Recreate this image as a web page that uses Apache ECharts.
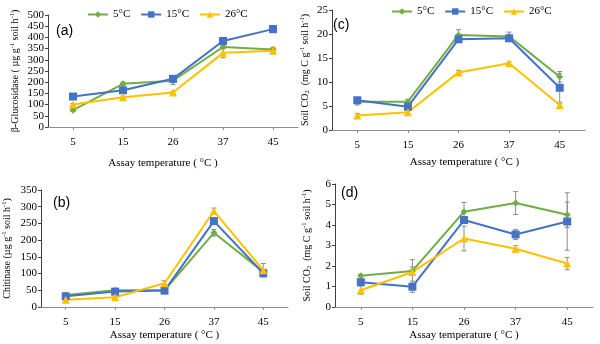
<!DOCTYPE html>
<html>
<head>
<meta charset="utf-8">
<script src="https://cdn.jsdelivr.net/npm/echarts@6/dist/echarts.min.js"></script>
<style>
  html, body { margin: 0; padding: 0; background: #fff; }
  #chart { width: 600px; height: 344px; }
</style>
</head>
<body>
<div id="chart"></div>
<script>
// Assay temperatures (°C) on every x axis
const categories = ['5', '15', '26', '37', '45'];
const seriesNames = ['5°C', '15°C', '26°C'];

// (a) β-Glucosidase, µg g-1 soil h-1
const glu5 = [75, 193, 207, 357, 346];
const glu15 = [136, 164, 215, 384, 437];
const glu26 = [100, 133, 154, 331, 340];
const gluErr5 = [6, 8, 18, 8, 10];
const gluErr15 = [6, 6, 8, 6, 16];
const gluErr26 = [5, 5, 5, 22, 10];

// (b) Chitinase, µg g-1 soil h-1
const chi5 = [36, 50, 50, 222, 105];
const chi15 = [32, 46, 49, 257, 101];
const chi26 = [22, 29, 71, 287, 110];
const chiErr5 = [5, 3, 3, 10, 8];
const chiErr15 = [4, 4, 3, 6, 10];
const chiErr26 = [3, 3, 8, 9, 20];

// (c) Soil CO2, mg C g-1 soil h-1
const co2c5 = [5.9, 5.9, 19.8, 19.5, 11.1];
const co2c15 = [6.2, 4.85, 18.9, 19.1, 8.8];
const co2c26 = [3.0, 3.7, 12.0, 13.9, 5.2];
const co2cErr5 = [0.7, 0.5, 1.1, 0.9, 1.1];
const co2cErr15 = [0.4, 0.4, 0.4, 0.4, 3.0];
const co2cErr26 = [0.4, 0.4, 0.4, 0.3, 0.4];

// (d) Soil CO2, mg C g-1 soil h-1
const co2d5 = [1.53, 1.76, 4.65, 5.07, 4.5];
const co2d15 = [1.21, 0.99, 4.24, 3.54, 4.17];
const co2d26 = [0.82, 1.71, 3.34, 2.84, 2.12];
const co2dErr5 = [0.05, 0.2, 0.45, 0.56, 0.62];
const co2dErr15 = [0.15, 0.27, 0.16, 0.25, 1.4];
const co2dErr26 = [0.2, 0.6, 0.6, 0.15, 0.3];

const colors = ['#70AD47', '#4472C4', '#FFC000'];
const symbols = ['diamond', 'rect', 'triangle'];
const symbolSizes = [7, 8, 8];
const serif = '"Liberation Serif", "Times New Roman", serif';

const panels = [
  { grid: { left: 48, top: 15, width: 250, height: 112 }, max: 500, interval: 50,
    data: [glu5, glu15, glu26], err: [gluErr5, gluErr15, gluErr26],
    yName: '{t|β-Glucosidase ( µg g}{s|-1}{t| soil h}{s|-1}{t|)}', yGap: 27, xGap: 31, xPad: [0, 20, 0, 0] },
  { grid: { left: 41, top: 190, width: 247, height: 117 }, max: 350, interval: 50,
    data: [chi5, chi15, chi26], err: [chiErr5, chiErr15, chiErr26],
    yName: '{t|Chitinase (µg g}{s|-1}{t| soil h}{s|-1}{t|)}', yGap: 28, xGap: 23, xPad: [0, 0, 0, 0] },
  { grid: { left: 332, top: 10, width: 253, height: 120 }, max: 25, interval: 5,
    data: [co2c5, co2c15, co2c26], err: [co2cErr5, co2cErr15, co2cErr26],
    yName: '{t|Soil CO}{b|2}{t|  (mg C g}{s|-1}{t| soil h}{s|-1}{t|)}', yGap: 21, xGap: 27, xPad: [0, 0, 0, 12] },
  { grid: { left: 335, top: 184, width: 258, height: 123 }, max: 6, interval: 1,
    data: [co2d5, co2d15, co2d26], err: [co2dErr5, co2dErr15, co2dErr26],
    yName: '{t|Soil CO}{b|2}{t|  (mg C g}{s|-1}{t| soil h}{s|-1}{t|)}', yGap: 22, xGap: 23, xPad: [0, 0, 0, 0] }
];

const richName = {
  t: { fontFamily: serif, fontSize: 10, color: '#000', lineHeight: 12 },
  s: { fontFamily: serif, fontSize: 6.5, color: '#000', verticalAlign: 'top', lineHeight: 12, padding: [0, 0, 5, 0] },
  b: { fontFamily: serif, fontSize: 6.5, color: '#000', verticalAlign: 'bottom', lineHeight: 12, padding: [5, 0, 0, 0] }
};

const grids = [], xAxes = [], yAxes = [], series = [];

panels.forEach((p, i) => {
  grids.push(Object.assign({ containLabel: false }, p.grid));
  xAxes.push({
    type: 'category', gridIndex: i, data: categories, boundaryGap: true,
    axisLine: { lineStyle: { color: '#8c8c8c', width: 1 } },
    axisTick: { show: true, alignWithLabel: true, length: 3, lineStyle: { color: '#8c8c8c' } },
    axisLabel: { fontFamily: serif, fontSize: 11, color: '#000', margin: 10 },
    name: 'Assay temperature ( °C )', nameLocation: 'middle', nameGap: p.xGap,
    nameTextStyle: { fontFamily: serif, fontSize: 11, color: '#000', padding: p.xPad }
  });
  yAxes.push({
    type: 'value', gridIndex: i, min: 0, max: p.max, interval: p.interval,
    axisLine: { show: true, lineStyle: { color: '#404040', width: 1 } },
    axisTick: { show: true, inside: false, length: 3, lineStyle: { color: '#404040' } },
    splitLine: { show: false },
    axisLabel: { fontFamily: serif, fontSize: 11, color: '#000', margin: 4 },
    name: p.yName, nameLocation: 'middle', nameRotate: 90, nameGap: p.yGap,
    nameTextStyle: { rich: richName }
  });
  p.data.forEach((vals, k) => {
    // error bars drawn beneath each line
    series.push({
      type: 'custom', xAxisIndex: i, yAxisIndex: i, z: 1, silent: true,
      data: vals.map((v, j) => [j, v - p.err[k][j], v + p.err[k][j]]),
      renderItem: (params, api) => {
        const lo = api.coord([api.value(0), api.value(1)]);
        const hi = api.coord([api.value(0), api.value(2)]);
        const w = 2.5;
        const st = { stroke: '#8c8c8c', lineWidth: 1 };
        return {
          type: 'group',
          children: [
            { type: 'line', shape: { x1: lo[0], y1: lo[1], x2: hi[0], y2: hi[1] }, style: st },
            { type: 'line', shape: { x1: lo[0] - w, y1: lo[1], x2: lo[0] + w, y2: lo[1] }, style: st },
            { type: 'line', shape: { x1: hi[0] - w, y1: hi[1], x2: hi[0] + w, y2: hi[1] }, style: st }
          ]
        };
      }
    });
    series.push({
      type: 'line', name: seriesNames[k], xAxisIndex: i, yAxisIndex: i, z: 3,
      data: vals, symbol: symbols[k], symbolSize: symbolSizes[k], showSymbol: true,
      itemStyle: { color: colors[k] },
      lineStyle: { color: colors[k], width: 2 },
      animation: false
    });
  });
});

const legendBase = {
  data: seriesNames, itemWidth: 20, itemHeight: 8, itemGap: 10,
  textStyle: { fontFamily: serif, fontSize: 11, color: '#000' },
  selectedMode: false
};

const panelLabel = (text, x, y) => ({
  type: 'text', left: x, top: y,
  style: { text, font: '14px "Liberation Sans", "Noto Sans", sans-serif', fill: '#000' }
});

const chart = echarts.init(document.getElementById('chart'), null, { renderer: 'canvas' });
chart.setOption({
  animation: false,
  grid: grids,
  xAxis: xAxes,
  yAxis: yAxes,
  series,
  legend: [
    Object.assign({ left: 82, top: 4 }, legendBase),
    Object.assign({ left: 386, top: 1 }, legendBase)
  ],
  graphic: [
    panelLabel('(a)', 56, 24),
    panelLabel('(b)', 53, 196),
    panelLabel('(c)', 333, 18),
    panelLabel('(d)', 341, 186)
  ]
});
</script>
</body>
</html>
